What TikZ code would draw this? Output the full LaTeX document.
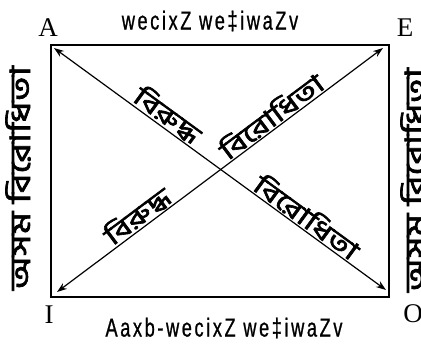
\documentclass[tikz,border=0pt]{standalone}
\usepackage{fontspec}
\setmainfont{Liberation Serif}
\newfontfamily\bn[Script=Bengali,FakeBold=2.5,FakeStretch=1.35]{Hind Siliguri}
\newfontfamily\lat[FakeStretch=0.7,LetterSpace=10,FakeBold=0.8]{Liberation Sans}
\usetikzlibrary{arrows.meta}
\begin{document}
\begin{tikzpicture}[x=1pt,y=-1pt,
  corner/.style={font=\fontsize{27}{27}\selectfont,inner sep=0pt},
  lat/.style={font=\lat\fontsize{26}{26}\selectfont,inner sep=0pt},
  bnl/.style={font=\bn\fontsize{25}{25}\selectfont,inner sep=1.5pt},
  bns/.style={font=\bn\fontsize{28}{28}\selectfont,inner sep=0pt},
  dbl/.style={{Stealth[length=10pt,width=7pt]}-{Stealth[length=10pt,width=7pt]},line width=1.2pt}]
\useasboundingbox (0,0) rectangle (421,345);
\draw[line width=2.7pt] (51,45) rectangle (389,297);
\coordinate (a1) at (54,48);
\coordinate (o1) at (386,290);
\coordinate (i1) at (57,292);
\coordinate (e1) at (383,48);
\draw[dbl] (a1) -- (o1);
\draw[dbl] (i1) -- (e1);
\node[corner] (A) at (48,28) {A};
\node[corner] (E) at (405,28) {E};
\node[corner] (I) at (49,315) {I};
\node[corner] (O) at (413,314) {O};
\node[lat] (top) at (210,21) {wecixZ we‡iwaZv};
\node[lat] (bot) at (224,328) {Aaxb-wecixZ we‡iwaZv};
\node[bns,rotate=90] (left) at (18,178) {অসম বিরোধিতা};
\node[bns,rotate=90] (right) at (413,180) {অসম বিরোধিতা};
\path (a1) -- (o1)
  node[bnl,pos=0.32,sloped,above] (d1) {বিরুদ্ধ}
  node[bnl,pos=0.74,sloped,above] (d2) {বিরোধিতা};
\path (i1) -- (e1)
  node[bnl,pos=0.27,sloped,above] (d3) {বিরুদ্ধ}
  node[bnl,pos=0.68,sloped,above] (d4) {বিরোধিতা};
\end{tikzpicture}
\end{document}
